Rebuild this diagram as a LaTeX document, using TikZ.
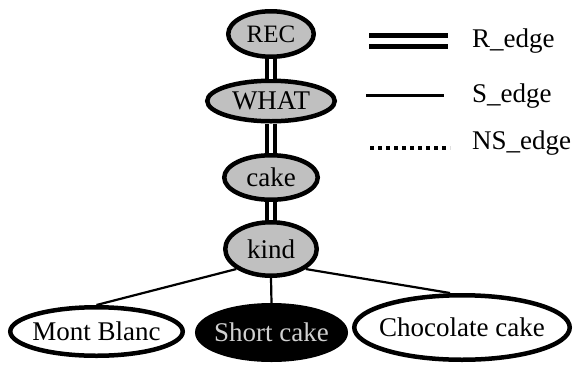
\documentclass[tikz,border=0pt]{standalone}
\usepackage{fontspec}
\setmainfont{Liberation Serif}
\usetikzlibrary{
  shapes.geometric,
  positioning
}
\definecolor{cgFill}{HTML}{C0C0C0}
\definecolor{cgPick}{HTML}{D0D0D0}
\tikzset{
  cgnode/.style={
    draw, ellipse, line width=4.5pt, inner xsep=-12pt, inner ysep=-8pt,
    font=\rmfamily\fontsize{27}{32}\selectfont
  },
  classnode/.style={cgnode, fill=cgFill},
  leafnode/.style={cgnode, fill=white},
  picknode/.style={cgnode, fill=black, text=cgPick},
  redge/.style={double, double distance=4pt, line width=3.8pt},
  sedge/.style={line width=2.2pt},
  nsedge/.style={line width=4pt, dash pattern=on 4pt off 4pt},
  legtag/.style={font=\rmfamily\fontsize{27}{32}\selectfont, anchor=base west, inner sep=0pt}
}

\begin{document}
\begin{tikzpicture}[x=1pt, y=-1pt]
  \useasboundingbox (0,0) rectangle (576,365);
  % concept chain
  \node[classnode, font=\rmfamily\fontsize{25}{30}\selectfont, minimum width=85.5pt, minimum height=45.5pt] (rec) at (271,34) {REC};
  \node[classnode, minimum width=127.5pt, minimum height=40.5pt] (what) at (271,101) {WHAT};
  \node[classnode, minimum width=93.5pt, minimum height=44.5pt] (cake) at (271,177.5) {cake};
  \node[classnode, minimum width=91.5pt, minimum height=53.5pt] (kind) at (271,249) {kind};
  % instances
  \node[leafnode, minimum width=172.5pt, minimum height=48.5pt] (mont) at (96.5,331.5) {Mont Blanc};
  \node[picknode, minimum width=148.5pt, minimum height=54.5pt] (short) at (271.5,332.5) {Short cake};
  \node[leafnode, minimum width=215.5pt, minimum height=64.5pt] (choc) at (462,327.5) {Chocolate cake};

  \draw[redge] (rec) -- (what);
  \draw[redge] (what) -- (cake);
  \draw[redge] (cake) -- (kind);
  \draw[sedge] (kind.210) -- (mont.north);
  \draw[sedge] (kind.south) -- (short.north);
  \draw[sedge] (kind.-30) -- ([xshift=-12pt]choc.north);

  % legend
  \coordinate (rA) at (369,41.3);
  \coordinate (rB) at (448,41.3);
  \coordinate (sA) at (366,95.3);
  \coordinate (sB) at (444,95.3);
  \coordinate (nA) at (370,148);
  \coordinate (nB) at (450,148);
  \draw[double, double distance=6pt, line width=5pt] (rA) -- (rB);
  \draw[line width=2.5pt] (sA) -- (sB);
  \draw[nsedge] (nA) -- (nB);
  \node[legtag] (rtag) at (472,47) {R\_edge};
  \node[legtag] (stag) at (472,102.5) {S\_edge};
  \node[legtag] (ntag) at (472,149.5) {NS\_edge};
\end{tikzpicture}
\end{document}
